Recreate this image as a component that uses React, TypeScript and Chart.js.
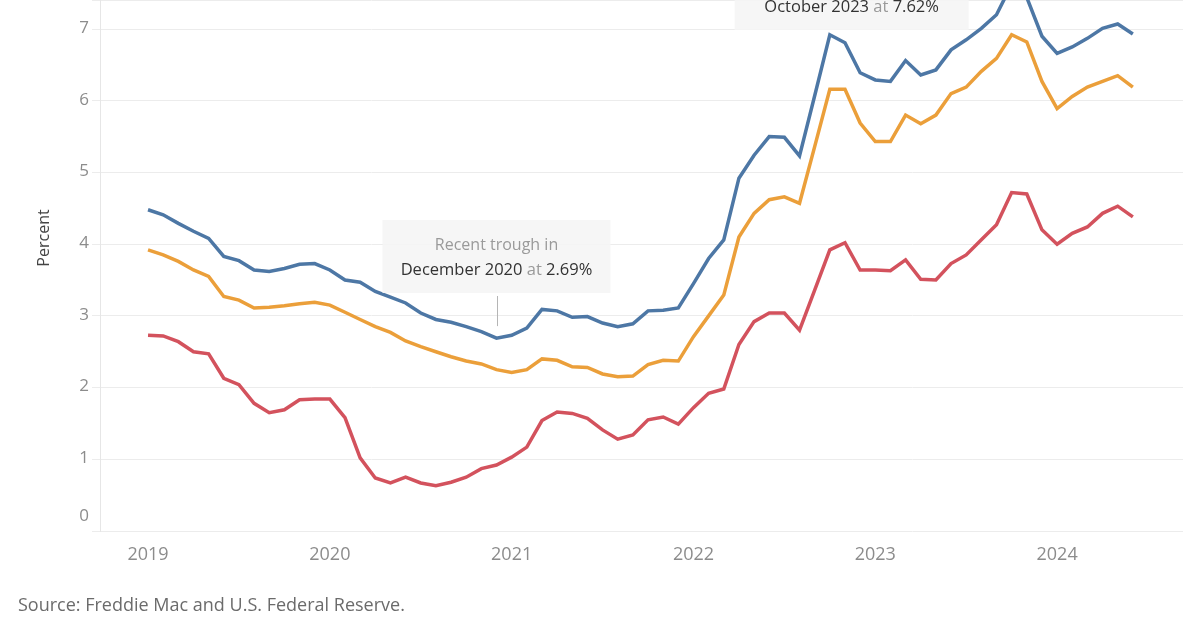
import React, { useEffect, useRef } from "react";
import { Chart, registerables } from "chart.js";

Chart.register(...registerables);

// Monthly averages, January 2019 through June 2024 (percent)
const yearLabels = ["2019", "2020", "2021", "2022", "2023", "2024"];

const rate30yr = [
  4.48, 4.41, 4.29, 4.18, 4.08, 3.83, 3.77, 3.64, 3.62, 3.66, 3.72, 3.73,
  3.64, 3.5, 3.47, 3.34, 3.26, 3.18, 3.04, 2.95, 2.91, 2.85, 2.78, 2.69,
  2.73, 2.83, 3.09, 3.07, 2.98, 2.99, 2.9, 2.85, 2.89, 3.07, 3.08, 3.11,
  3.45, 3.8, 4.06, 4.92, 5.24, 5.5, 5.49, 5.23, 6.07, 6.92, 6.81, 6.39,
  6.29, 6.27, 6.56, 6.36, 6.43, 6.71, 6.85, 7.01, 7.2, 7.62, 7.44, 6.9,
  6.66, 6.75, 6.87, 7.01, 7.07, 6.93,
];

const rate15yr = [
  3.92, 3.85, 3.76, 3.64, 3.55, 3.27, 3.22, 3.11, 3.12, 3.14, 3.17, 3.19,
  3.15, 3.05, 2.95, 2.85, 2.77, 2.65, 2.57, 2.5, 2.43, 2.37, 2.33, 2.25,
  2.21, 2.25, 2.4, 2.38, 2.29, 2.28, 2.19, 2.15, 2.16, 2.32, 2.38, 2.37,
  2.71, 3.0, 3.29, 4.1, 4.43, 4.62, 4.66, 4.57, 5.36, 6.16, 6.16, 5.69,
  5.43, 5.43, 5.8, 5.68, 5.8, 6.1, 6.19, 6.41, 6.59, 6.92, 6.82, 6.27,
  5.89, 6.06, 6.19, 6.27, 6.35, 6.19,
];

const treasury10yr = [
  2.73, 2.72, 2.64, 2.5, 2.47, 2.13, 2.04, 1.78, 1.65, 1.69, 1.83, 1.84,
  1.84, 1.58, 1.02, 0.74, 0.67, 0.75, 0.67, 0.63, 0.68, 0.75, 0.87, 0.92,
  1.03, 1.17, 1.54, 1.66, 1.64, 1.57, 1.41, 1.28, 1.34, 1.55, 1.59, 1.49,
  1.72, 1.92, 1.98, 2.6, 2.92, 3.04, 3.04, 2.8, 3.36, 3.92, 4.02, 3.64,
  3.64, 3.63, 3.78, 3.51, 3.5, 3.73, 3.85, 4.06, 4.27, 4.72, 4.7, 4.2,
  4.0, 4.15, 4.24, 4.43, 4.53, 4.38,
];

const yTicks = [0, 1, 2, 3, 4, 5, 6, 7];

const troughIndex = 23; // December 2020
const peakIndex = 57; // October 2023

const FONT = "'Open Sans', 'Noto Sans', sans-serif";
const DARK = "#333333";
const GRAY = "#9a9a9a";

type Seg = [string, string, string];

function drawSegments(ctx: CanvasRenderingContext2D, segs: Seg[], cx: number, cy: number, size: number) {
  let total = 0;
  const widths = segs.map(([t, , w]) => {
    ctx.font = `${w} ${size}px ${FONT}`;
    const m = ctx.measureText(t).width;
    total += m;
    return m;
  });
  let x = cx - total / 2;
  ctx.textAlign = "left";
  ctx.textBaseline = "middle";
  segs.forEach(([t, c, w], i) => {
    ctx.font = `${w} ${size}px ${FONT}`;
    ctx.fillStyle = c;
    ctx.fillText(t, x, cy);
    x += widths[i];
  });
}

const textPlugin = {
  id: "chartText",
  afterDatasetsDraw(chart: any) {
    const { ctx, scales } = chart;
    const xs = scales.x;
    const ys = scales.y;
    ctx.save();

    // trough callout
    const tx = xs.getPixelForValue(troughIndex);
    const ty = ys.getPixelForValue(rate30yr[troughIndex]);
    ctx.fillStyle = "rgba(245,245,245,0.9)";
    ctx.fillRect(tx - 114, 220, 228, 73);
    ctx.strokeStyle = "#b5b5b5";
    ctx.lineWidth = 1;
    ctx.beginPath();
    ctx.moveTo(Math.round(tx) + 0.5, 296);
    ctx.lineTo(Math.round(tx) + 0.5, ty - 12);
    ctx.stroke();
    drawSegments(ctx, [["Recent trough in", GRAY, "400"]], tx, 245, 16);
    drawSegments(
      ctx,
      [
        ["December 2020", DARK, "500"],
        [" at ", GRAY, "400"],
        [rate30yr[troughIndex].toFixed(2) + "%", DARK, "400"],
      ],
      tx,
      270,
      16.5
    );

    // peak callout
    const px = xs.getPixelForValue(peakIndex) - 160;
    ctx.fillStyle = "rgba(245,245,245,0.9)";
    ctx.fillRect(px - 117, -20, 234, 50);
    drawSegments(
      ctx,
      [
        ["October 2023", DARK, "500"],
        [" at ", GRAY, "400"],
        [rate30yr[peakIndex].toFixed(2) + "%", DARK, "400"],
      ],
      px,
      7,
      16.5
    );
    ctx.restore();
  },
  afterDraw(chart: any) {
    const { ctx, scales } = chart;
    const xs = scales.x;
    const ys = scales.y;
    ctx.save();

    // y tick labels
    ctx.font = `400 17px ${FONT}`;
    ctx.fillStyle = "#8c8c8c";
    ctx.textAlign = "right";
    ctx.textBaseline = "middle";
    yTicks.forEach((v) => {
      const yy = v === 0 ? ys.getPixelForValue(0) - 15 : ys.getPixelForValue(v) - 1;
      ctx.fillText(String(v), 89, yy);
    });

    // x tick labels
    ctx.font = `400 18px ${FONT}`;
    ctx.textAlign = "center";
    yearLabels.forEach((lab, i) => {
      ctx.fillText(lab, xs.getPixelForValue(i * 12), 555);
    });

    // y axis title
    ctx.save();
    ctx.translate(44, 238);
    ctx.rotate(-Math.PI / 2);
    ctx.font = `400 16px ${FONT}`;
    ctx.fillStyle = "#444444";
    ctx.textAlign = "center";
    ctx.textBaseline = "middle";
    ctx.fillText("Percent", 0, 0);
    ctx.restore();

    // source line
    ctx.font = `400 18px ${FONT}`;
    ctx.fillStyle = "#6b6b6b";
    ctx.textAlign = "left";
    ctx.textBaseline = "middle";
    ctx.fillText("Source: Freddie Mac and U.S. Federal Reserve.", 18, 606);
    ctx.restore();
  },
};

function series(values: number[]) {
  return values.map((v, i) => ({ x: i, y: v }));
}

export default function App() {
  const canvasRef = useRef<HTMLCanvasElement | null>(null);

  useEffect(() => {
    if (!canvasRef.current) return;
    const chart = new Chart(canvasRef.current, {
      type: "line",
      data: {
        datasets: [
          {
            label: "30-year fixed",
            data: series(rate30yr),
            borderColor: "#4d77a5",
            borderWidth: 3.5,
            pointRadius: 0,
            tension: 0,
          },
          {
            label: "15-year fixed",
            data: series(rate15yr),
            borderColor: "#eb9f3a",
            borderWidth: 3.5,
            pointRadius: 0,
            tension: 0,
          },
          {
            label: "10-year Treasury",
            data: series(treasury10yr),
            borderColor: "#d3525d",
            borderWidth: 3.5,
            pointRadius: 0,
            tension: 0,
          },
        ],
      },
      options: {
        animation: false,
        responsive: false,
        maintainAspectRatio: false,
        layout: { padding: { left: 92, right: 17, top: 0, bottom: 99 } },
        plugins: { legend: { display: false }, tooltip: { enabled: false } },
        scales: {
          x: {
            type: "linear",
            min: -3.17,
            max: 68.31,
            grid: { display: false, drawTicks: false },
            border: { display: false },
            ticks: { display: false },
          },
          y: {
            min: 0,
            max: 7.405,
            grid: { color: "#ececec", lineWidth: 1, tickLength: 8, tickColor: "#ececec" },
            border: { display: true, color: "#e6e6e6" },
            ticks: { display: false, stepSize: 1 },
          },
        },
      },
      plugins: [textPlugin],
    });
    return () => chart.destroy();
  }, []);

  return (
    <div style={{ position: "fixed", left: 0, top: 0, width: 1200, height: 630, background: "#ffffff" }}>
      <canvas ref={canvasRef} width={1200} height={630} style={{ width: 1200, height: 630 }} />
    </div>
  );
}
